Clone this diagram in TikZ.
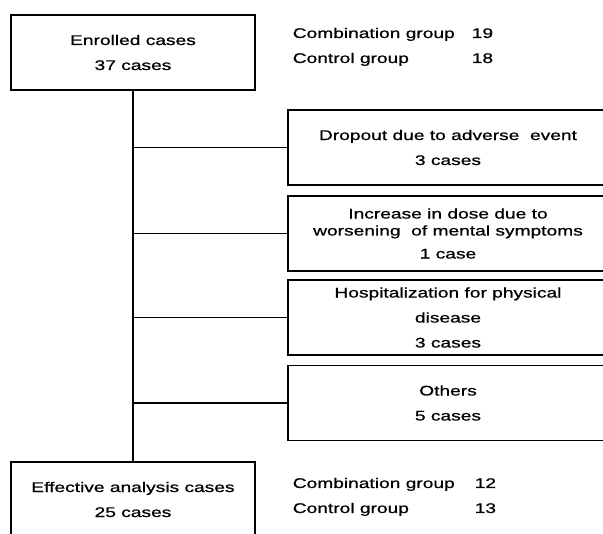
\documentclass[tikz,border=0pt]{standalone}
\usepackage{fontspec}
\setmainfont{Liberation Sans}[FakeStretch=1.37,FakeBold=0.8]
\usepackage{tikz}

\begin{document}
\begin{tikzpicture}[x=1pt,y=1pt,line width=1.5pt,
  every node/.style={font=\fontsize{14}{25}\selectfont,inner sep=0pt},
  leftbox/.style={draw,minimum width=244pt,minimum height=75pt,align=center},
  rightbox/.style={draw,minimum width=320pt,minimum height=75pt,align=center},
  grouptext/.style={anchor=base west}]
\useasboundingbox (0,0) rectangle (603,-534);
\clip (0,0) rectangle (603,-534);
% main column
\node [leftbox] (enrolled) at (133,-52.5) {Enrolled cases\\37 cases};
\node [leftbox] (effective) at (133,-499.5) {Effective analysis cases\\25 cases};
% excluded cases
\node [rightbox] (dropout) at (448,-147.5) {Dropout due to adverse~ event\\3 cases};
\node [rightbox] (dose) at (448,-233.5) {Increase in dose due to\\[-8pt]worsening~ of mental symptoms\\[-2pt]1 case};
\node [rightbox] (hosp) at (448,-317.5) {Hospitalization for physical\\disease\\3 cases};
\node [rightbox] (others) at (448,-403) {Others\\5 cases};
% group counts
\node [grouptext] (enrolledA) at (292,-38) {Combination group};
\node [grouptext] (enrolledAn) at (471,-38) {19};
\node [grouptext] (enrolledB) at (292,-63) {Control group};
\node [grouptext] (enrolledBn) at (471,-63) {18};
\node [grouptext] (effectiveA) at (292,-488) {Combination group};
\node [grouptext] (effectiveAn) at (474,-488) {12};
\node [grouptext] (effectiveB) at (292,-513) {Control group};
\node [grouptext] (effectiveBn) at (474,-513) {13};
% connectors
\draw (enrolled) -- (effective);
\foreach \n in {dropout,dose,hosp,others}
  \draw (enrolled.south |- \n.west) -- (\n.west);
\end{tikzpicture}
\end{document}
